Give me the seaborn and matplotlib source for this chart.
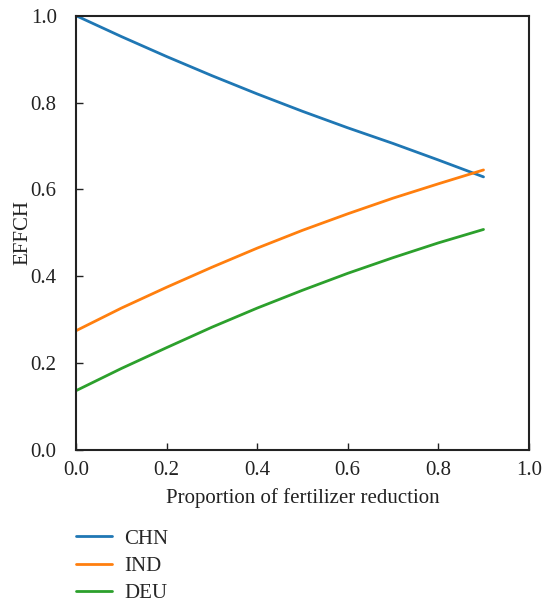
import numpy as np
import pandas as pd
import matplotlib
matplotlib.use("Agg")
import matplotlib.pyplot as plt
import seaborn as sns

x_vals = [0.0, 0.1, 0.2, 0.3, 0.4, 0.5, 0.6, 0.7, 0.8, 0.9]
chn = [1.000, 0.952, 0.906, 0.862, 0.820, 0.780, 0.742, 0.706, 0.668, 0.629]
ind = [0.275, 0.327, 0.375, 0.421, 0.465, 0.506, 0.544, 0.580, 0.613, 0.645]
deu = [0.137, 0.188, 0.236, 0.283, 0.327, 0.368, 0.407, 0.443, 0.477, 0.508]
series_names = ["CHN", "IND", "DEU"]

df = pd.DataFrame({
    "x": x_vals * 3,
    "y": chn + ind + deu,
    "country": sum([[n] * len(x_vals) for n in series_names], []),
})

sns.set_style("ticks")
plt.rcParams["font.family"] = ["Liberation Serif", "DejaVu Serif"]
plt.rcParams["xtick.direction"] = "in"
plt.rcParams["ytick.direction"] = "in"

FS = 15
fig = plt.figure(figsize=(5.44, 6.05), dpi=100)
ax = fig.add_axes([0.140, 0.256, 0.832, 0.718])
palette = ["#1f77b4", "#ff7f0e", "#2ca02c"]
sns.lineplot(data=df, x="x", y="y", hue="country", palette=palette,
             linewidth=2, ax=ax)
ax.set_xlim(0, 1)
ax.set_ylim(0, 1)
ticks = [0, 0.2, 0.4, 0.6, 0.8, 1.0]
ticklabels = ["0.0", "0.2", "0.4", "0.6", "0.8", "1.0"]
ax.set_xticks(ticks)
ax.set_yticks(ticks)
ax.set_xticklabels(ticklabels)
ax.set_yticklabels(ticklabels)
ax.tick_params(labelsize=FS, length=5, width=1, colors="#222222")
ax.tick_params(axis="x", pad=8)
ax.tick_params(axis="y", pad=14)
ax.set_xlabel("Proportion of fertilizer reduction", fontsize=FS, color="#222222", labelpad=6)
ax.set_ylabel("EFFCH", fontsize=FS, color="#222222", labelpad=-1)
for s in ax.spines.values():
    s.set_visible(True)
    s.set_linewidth(1.5)
    s.set_color("#222222")
leg = ax.legend(loc="upper left", bbox_to_anchor=(0.0, -0.182), frameon=False,
                fontsize=FS, handlelength=1.7, handletextpad=0.6,
                labelspacing=0.37, borderpad=0, borderaxespad=0, title=None)
fig.savefig("out.png", dpi=100)
